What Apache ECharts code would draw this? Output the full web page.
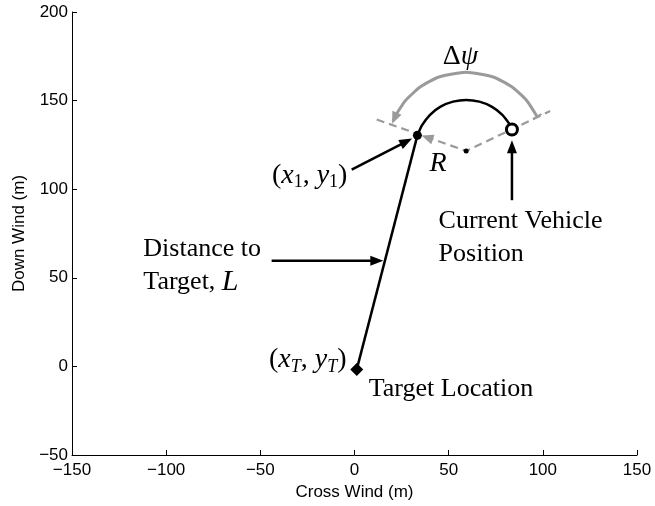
<!DOCTYPE html>
<html><head><meta charset="utf-8">
<script src="https://cdn.jsdelivr.net/npm/echarts@6/dist/echarts.min.js"></script>
<style>html,body{margin:0;padding:0;background:#fff}#c{width:655px;height:506px}</style>
</head><body><div id="c"></div>
<script>
// ---- data ----
const xRange = [-150, 150];
const yRange = [-50, 200];
const tickStep = 50;
const targetPoint = [[1.2, -1.7]];
const turnStart = [[33.4, 130.4]];            // (x1, y1)
const turnCenter = [[59.3, 121.6]];
const vehiclePos = [[83.6, 133.7]];
const pathToTarget = [[1.2, -1.7], [33.4, 130.4]];
const turnArc = [[33.5,130.6],[35.8,136.0],[40.1,142.0],[45.7,146.6],[52.3,149.4],[59.3,150.4],[66.3,149.4],[72.8,146.6],[78.5,142.0],[82.8,136.0],[83.8,133.8]];
const radiusLines = [[11.8,139.3],[59.3,121.6],[103.9,144.1]];
const headingArc = [[97.0,140.9],[91.4,150.1],[83.3,157.9],[73.6,163.3],[59.3,166.0],[44.9,163.3],[35.2,157.9],[27.1,150.1],[22.2,142.3],[20.4,138.5]];
const blackArrows = [[-1.5,111.1,30.6,128.6],[83.6,93.8,83.6,127.6],[-44.0,59.6,15.3,59.6]];
const grayArrowHeads = [[59.3,121.6,35.6,130.3],[22.2,142.3,20.0,136.9]];
const arcStartBar = [[97.0,140.9,91.4,150.1]];
const labelTexts = [
  '{n|Δ}{i|ψ}',
  '{n|(}{i|x}{s|1}{n|, }{i|y}{s|1}{n|)}',
  '{i|R}',
  '{t|Current Vehicle}\n{t|Position}',
  '{t|Distance to}\n{t|Target, }{L|L}',
  '{n|(}{i|x}{si|T}{n|, }{i|y}{si|T}{n|)}',
  '{t|Target Location}'
];
const labelAnchors = [[56.3,175.0],[-3.5,107.9],[44.4,114.7],[44.4,72.6],[-112.4,57.1],[-4.0,3.6],[7.3,-12.8]];

// ---- styling / rendering ----
const labelPositions = ['inside','left','inside','right','right','left','right'];
const serif = 'Liberation Serif';
const sans = 'Liberation Sans';
const rich = {
  n: {fontFamily: serif, fontSize: 28, color: '#000', lineHeight: 32},
  i: {fontFamily: serif, fontSize: 28, fontStyle: 'italic', color: '#000', lineHeight: 32},
  s: {fontFamily: serif, fontSize: 18, color: '#000', lineHeight: 16, verticalAlign: 'bottom'},
  si: {fontFamily: serif, fontSize: 18, fontStyle: 'italic', color: '#000', lineHeight: 16, verticalAlign: 'bottom'},
  t: {fontFamily: serif, fontSize: 26, color: '#000', lineHeight: 33},
  L: {fontFamily: serif, fontSize: 30, fontStyle: 'italic', color: '#000', lineHeight: 33}
};

function arrowRender(color, width, headLen, headWidth, shaft) {
  return function (params, api) {
    const p0 = api.coord([api.value(0), api.value(1)]);
    const p1 = api.coord([api.value(2), api.value(3)]);
    const dx = p1[0] - p0[0], dy = p1[1] - p0[1];
    const len = Math.hypot(dx, dy) || 1;
    const ux = dx / len, uy = dy / len;
    const W = headWidth / 2;
    const bx = p1[0] - ux * headLen, by = p1[1] - uy * headLen;
    const children = [];
    if (shaft) {
      children.push({type: 'line', shape: {x1: p0[0], y1: p0[1], x2: bx + ux * 2, y2: by + uy * 2},
        style: {stroke: color, lineWidth: width}});
    }
    children.push({type: 'polygon', shape: {points: [[p1[0], p1[1]], [bx - uy * W, by + ux * W], [bx + uy * W, by - ux * W]]},
      style: {fill: color}});
    return {type: 'group', children: children};
  };
}
function barRender(color, width, half) {
  return function (params, api) {
    const p0 = api.coord([api.value(0), api.value(1)]);
    const p1 = api.coord([api.value(2), api.value(3)]);
    const dx = p1[0] - p0[0], dy = p1[1] - p0[1];
    const len = Math.hypot(dx, dy) || 1;
    const nx = -dy / len, ny = dx / len;
    return {type: 'line', shape: {x1: p0[0] - nx * half, y1: p0[1] - ny * half, x2: p0[0] + nx * half, y2: p0[1] + ny * half},
      style: {stroke: color, lineWidth: width}};
  };
}

const gray = '#9a9a9a';
const fmt = v => v < 0 ? '\u2212' + Math.abs(v) : String(v);
const chart = echarts.init(document.getElementById('c'), null, {renderer: 'canvas'});
chart.setOption({
  animation: false,
  backgroundColor: '#fff',
  grid: {left: 72, right: 18, top: 12, bottom: 51, containLabel: false},
  xAxis: {
    type: 'value', min: xRange[0], max: xRange[1], interval: tickStep,
    axisLine: {onZero: false, lineStyle: {color: '#000', width: 1}},
    axisTick: {inside: true, length: 5, lineStyle: {color: '#000'}},
    axisLabel: {color: '#000', fontSize: 17, fontFamily: sans, margin: 7, formatter: fmt},
    splitLine: {show: false},
    name: 'Cross Wind (m)', nameLocation: 'middle', nameGap: 27,
    nameTextStyle: {color: '#000', fontSize: 17, fontFamily: sans}
  },
  yAxis: {
    type: 'value', min: yRange[0], max: yRange[1], interval: tickStep,
    axisLine: {onZero: false, lineStyle: {color: '#000', width: 1}},
    axisTick: {inside: true, length: 5, lineStyle: {color: '#000'}},
    axisLabel: {color: '#000', fontSize: 17, fontFamily: sans, margin: 4, formatter: fmt},
    splitLine: {show: false},
    name: 'Down Wind (m)', nameLocation: 'middle', nameGap: 41,
    nameTextStyle: {color: '#000', fontSize: 17, fontFamily: sans}
  },
  series: [
    {type: 'line', data: radiusLines, symbol: 'none', lineStyle: {color: gray, width: 2.2, type: [8, 5]}, z: 2},
    {type: 'line', data: headingArc, symbol: 'none', smooth: 0.2, lineStyle: {color: gray, width: 3}, z: 2},
    {type: 'custom', data: grayArrowHeads, renderItem: arrowRender(gray, 2, 12, 10, false), z: 3},
    {type: 'custom', data: arcStartBar, renderItem: barRender(gray, 2, 5), z: 3},
    {type: 'line', data: pathToTarget, symbol: 'none', lineStyle: {color: '#000', width: 2.5}, z: 4},
    {type: 'line', data: turnArc, symbol: 'none', smooth: 0.2, lineStyle: {color: '#000', width: 2.5}, z: 4},
    {type: 'custom', data: blackArrows, renderItem: arrowRender('#000', 2.5, 13, 10, true), z: 5},
    {type: 'scatter', data: targetPoint, symbol: 'diamond', symbolSize: 13, itemStyle: {color: '#000', opacity: 1}, z: 6},
    {type: 'scatter', data: turnStart, symbol: 'circle', symbolSize: 9, itemStyle: {color: '#000', opacity: 1}, z: 6},
    {type: 'scatter', data: turnCenter, symbol: 'circle', symbolSize: 5, itemStyle: {color: '#000', opacity: 1}, z: 6},
    {type: 'scatter', data: vehiclePos, symbol: 'circle', symbolSize: 11, itemStyle: {color: '#fff', borderColor: '#000', borderWidth: 3, opacity: 1}, z: 6},
    {type: 'scatter', symbol: 'circle', symbolSize: 1, itemStyle: {color: 'rgba(0,0,0,0)', opacity: 1}, z: 7,
      data: labelAnchors.map((p, i) => ({value: p, label: {show: true, formatter: labelTexts[i], position: labelPositions[i], distance: 0, color: '#000', opacity: 1, textBorderWidth: 0, rich: rich}})),
      label: {show: true, color: '#000', rich: rich}}
  ]
});
</script>
</body></html>
